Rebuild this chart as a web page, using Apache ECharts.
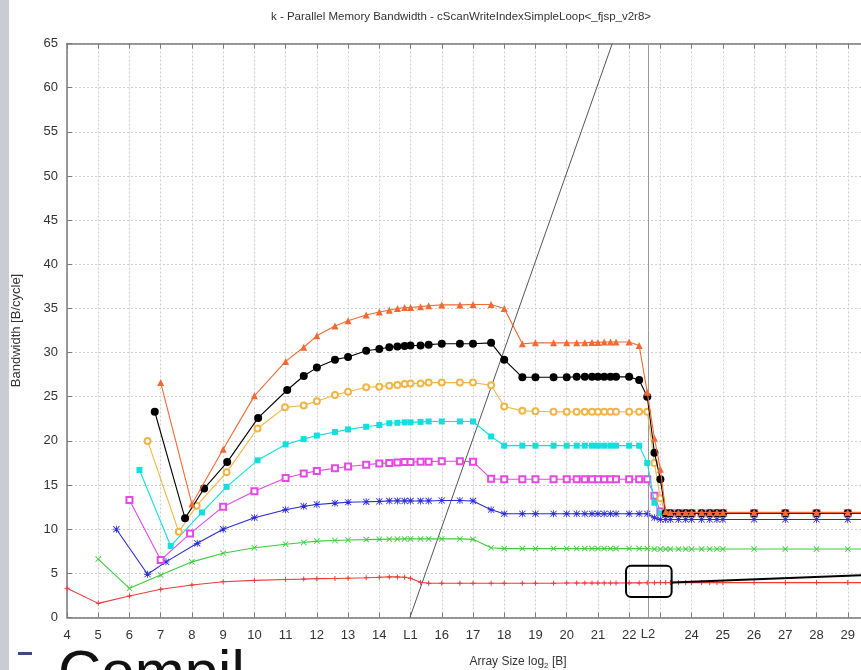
<!DOCTYPE html>
<html>
<head>
<meta charset="utf-8">
<script src="https://cdn.jsdelivr.net/npm/echarts@6.0.0/dist/echarts.min.js"></script>
<style>
  html, body { margin: 0; padding: 0; background: #ffffff; }
  #chart { width: 861px; height: 670px; }
</style>
</head>
<body>
<div id="chart"></div>
<script>
// Parallel memory bandwidth of cScanWriteIndexSimpleLoop, one curve per thread count.
// x = log2 of array size in bytes, y = bandwidth in B/cycle.

// Shared array-size grid used by every curve from 2^11.58 B upward
const MID_X = [11.58, 12, 12.58, 13, 13.58, 14, 14.32, 14.58, 14.81, 15, 15.32, 15.58, 16, 16.58, 17, 17.58,
  18, 18.58, 19, 19.58, 20, 20.32, 20.58, 20.81, 21, 21.2, 21.4, 21.58, 22, 22.32, 22.58, 22.81, 23, 23.17,
  23.32, 23.58, 23.81, 24, 24.32, 24.58, 24.81, 25, 26, 27, 28, 29, 30];

// Small sizes (each thread count starts at its own size)
const red_x = [4, 5, 6, 7, 8, 9, 10, 11];
const red_y = [3.3, 1.6, 2.43, 3.2, 3.68, 4.05, 4.2, 4.3];
const green_x = [5, 6, 7, 8, 9, 10, 11];
const green_y = [6.62, 3.3, 4.8, 6.3, 7.27, 7.9, 8.3];
const blue_x = [5.58, 6.58, 7.17, 8.17, 9, 10, 11];
const blue_y = [10.0, 4.9, 6.3, 8.4, 10.0, 11.3, 12.2];
const magenta_x = [6, 7, 7.94, 9, 10, 11];
const magenta_y = [13.3, 6.5, 9.5, 12.55, 14.3, 15.8];
const cyan_x = [6.32, 7.32, 8.32, 9.11, 10.1, 11];
const cyan_y = [16.7, 8.1, 11.9, 14.8, 17.8, 19.6];
const yellow_x = [6.58, 7.58, 8.15, 9.11, 10.1, 10.98];
const yellow_y = [20.0, 9.7, 12.66, 16.44, 21.4, 23.8];
const black_x = [6.81, 7.78, 8.39, 9.13, 10.12, 11.05];
const black_y = [23.3, 11.23, 14.6, 17.6, 22.6, 25.76];
const orange_x = [7, 8, 9, 10, 11];
const orange_y = [26.6, 12.85, 19.05, 25.1, 29.0];

// Values on the shared grid (same order as MID_X)
const red_mid = [4.35, 4.4, 4.42, 4.45, 4.5, 4.55, 4.6, 4.6, 4.55, 4.44, 4.0, 3.87, 3.87, 3.87, 3.87, 3.88,
  3.88, 3.88, 3.88, 3.88, 3.9, 3.9, 3.9, 3.9, 3.9, 3.9, 3.9, 3.9, 3.92, 3.92, 3.93, 3.93, 3.95, 3.95,
  3.95, 3.95, 3.95, 3.95, 3.95, 3.95, 3.95, 3.95, 3.95, 3.95, 3.95, 3.95, 3.95];
const green_mid = [8.5, 8.65, 8.72, 8.78, 8.82, 8.85, 8.87, 8.88, 8.9, 8.9, 8.9, 8.9, 8.9, 8.9, 8.85, 7.9,
  7.8, 7.8, 7.8, 7.8, 7.8, 7.8, 7.8, 7.8, 7.8, 7.8, 7.8, 7.8, 7.8, 7.8, 7.8, 7.75, 7.75, 7.75,
  7.75, 7.75, 7.75, 7.75, 7.75, 7.75, 7.75, 7.75, 7.75, 7.75, 7.75, 7.75, 7.75];
const blue_mid = [12.6, 12.8, 12.95, 13.05, 13.1, 13.15, 13.2, 13.2, 13.2, 13.2, 13.2, 13.2, 13.25, 13.25, 13.2, 12.2,
  11.75, 11.75, 11.75, 11.75, 11.75, 11.75, 11.75, 11.75, 11.75, 11.75, 11.75, 11.75, 11.75, 11.75, 11.75, 11.3, 11.1, 11.1,
  11.1, 11.1, 11.1, 11.1, 11.1, 11.1, 11.1, 11.1, 11.1, 11.1, 11.1, 11.1, 11.1];
const magenta_mid = [16.3, 16.6, 16.9, 17.1, 17.3, 17.45, 17.5, 17.55, 17.6, 17.6, 17.65, 17.65, 17.7, 17.7, 17.65, 15.7,
  15.65, 15.65, 15.65, 15.65, 15.65, 15.65, 15.65, 15.65, 15.65, 15.65, 15.65, 15.65, 15.65, 15.65, 15.65, 13.8, 12.0, 11.8,
  11.8, 11.8, 11.8, 11.8, 11.8, 11.8, 11.8, 11.8, 11.8, 11.8, 11.8, 11.8, 11.8];
const cyan_mid = [20.2, 20.6, 21.0, 21.3, 21.6, 21.8, 22.0, 22.05, 22.1, 22.1, 22.15, 22.2, 22.2, 22.2, 22.2, 20.5,
  19.46, 19.46, 19.46, 19.46, 19.46, 19.46, 19.46, 19.46, 19.46, 19.46, 19.46, 19.46, 19.46, 19.46, 17.5, 13.0, 11.8, 11.8,
  11.8, 11.8, 11.8, 11.8, 11.8, 11.8, 11.8, 11.8, 11.8, 11.8, 11.8, 11.8, 11.8];
const yellow_mid = [24.0, 24.5, 25.2, 25.57, 26.07, 26.14, 26.25, 26.33, 26.44, 26.5, 26.5, 26.6, 26.6, 26.6, 26.6, 26.3,
  23.9, 23.4, 23.35, 23.3, 23.3, 23.3, 23.3, 23.3, 23.3, 23.3, 23.3, 23.3, 23.3, 23.3, 23.3, 17.5, 13.5, 11.8,
  11.8, 11.8, 11.8, 11.8, 11.8, 11.8, 11.8, 11.8, 11.8, 11.8, 11.8, 11.8, 11.8];
const black_mid = [27.35, 28.3, 29.2, 29.5, 30.2, 30.4, 30.6, 30.7, 30.75, 30.8, 30.8, 30.9, 31.0, 31.0, 31.0, 31.1,
  29.2, 27.2, 27.2, 27.2, 27.2, 27.25, 27.25, 27.25, 27.25, 27.25, 27.25, 27.25, 27.25, 26.9, 25.0, 18.66, 15.65, 11.8,
  11.8, 11.8, 11.8, 11.8, 11.8, 11.8, 11.8, 11.8, 11.8, 11.8, 11.8, 11.8, 11.8];
const orange_mid = [30.6, 31.9, 33.0, 33.6, 34.26, 34.6, 34.8, 35.0, 35.1, 35.1, 35.2, 35.3, 35.4, 35.4, 35.45, 35.45,
  35.0, 31.0, 31.1, 31.1, 31.1, 31.1, 31.1, 31.15, 31.15, 31.2, 31.2, 31.2, 31.2, 30.8, 25.5, 20.3, 16.8, 12.0,
  11.9, 11.9, 11.9, 11.9, 11.9, 11.9, 11.9, 11.9, 11.9, 11.9, 11.9, 11.9, 11.9];

// Cache boundaries on the size axis, and the reference line through the chart
const L1_X = 15;
const L2_X = 22.6;
const refLine = [[14.98, 0], [21.46, 65]];

// Axis ticks
const X_MIN = 4, X_MAX = 30, Y_MIN = 0, Y_MAX = 65, Y_STEP = 5;

function pairs(xs, ys) { return xs.map((x, i) => [x, ys[i]]); }
function curve(earlyX, earlyY, midY) { return pairs(earlyX, earlyY).concat(pairs(MID_X, midY)); }

// Marker shapes: plus, cross and star
const PLUS = 'path://M4,0H6V4H10V6H6V10H4V6H0V4H4Z';
const CROSS = 'path://M1,0L5,4L9,0L10,1L6,5L10,9L9,10L5,6L1,10L0,9L4,5L0,1Z';
const STAR = 'path://M4.4,0H5.6V4.4H10V5.6H5.6V10H4.4V5.6H0V4.4H4.4Z M1,0.2L5,4.2L9,0.2L9.8,1L5.8,5L9.8,9L9,9.8L5,5.8L1,9.8L0.2,9L4.2,5L0.2,1Z';

const sans = "'Liberation Sans', Arial, sans-serif";

function lineSeries(name, color, data, symbol, size, z) {
  return {
    name: name, type: 'line', data: data, symbol: symbol, symbolSize: size,
    showAllSymbol: true, z: z, silent: true, animation: false,
    lineStyle: { color: color, width: 1.1 },
    itemStyle: { color: color, borderColor: color, borderWidth: symbol.startsWith('empty') ? 1.2 : 0 }
  };
}

const chart = echarts.init(document.getElementById('chart'), null, { renderer: 'canvas' });

const axisColor = '#7a7a7a';
const gridLine = { show: true, lineStyle: { color: '#cfcfcf', width: 1, type: [2, 2] } };

chart.setOption({
  backgroundColor: '#ffffff',
  animation: false,
  title: {
    text: 'k - Parallel Memory Bandwidth - cScanWriteIndexSimpleLoop<_fjsp_v2r8>',
    left: 456, top: 6, textAlign: 'center',
    textStyle: { fontFamily: sans, fontSize: 11.5, fontWeight: 'normal', color: '#333' }
  },
  // The plot runs on past the right edge of the page (up to 2^30 B)
  grid: { left: 67, top: 43.5, height: 574, width: 812, outerBoundsMode: 'none', containLabel: false },
  xAxis: [{
    type: 'value', min: X_MIN, max: X_MAX, interval: 1, position: 'bottom',
    name: 'Array Size log{s|2} [B]', nameLocation: 'middle', nameGap: 37,
    nameTextStyle: {
      fontFamily: sans, fontSize: 12, color: '#333', padding: [0, 0, 0, 90],
      rich: { s: { fontFamily: sans, fontSize: 8, color: '#333', padding: [7, 0, 0, 0] } }
    },
    axisLine: { show: true, onZero: false, lineStyle: { color: axisColor, width: 1.5 } },
    axisTick: { show: true, inside: true, length: 5, lineStyle: { color: axisColor } },
    axisLabel: {
      fontFamily: sans, fontSize: 13, color: '#333', margin: 11,
      formatter: v => (v === L1_X ? 'L1' : (v === 23 ? '' : String(v)))
    },
    splitLine: gridLine
  }, {
    type: 'value', min: X_MIN, max: X_MAX, interval: 1, position: 'top',
    axisLine: { show: true, onZero: false, lineStyle: { color: axisColor, width: 1.5 } },
    axisTick: { show: true, inside: true, length: 5, lineStyle: { color: axisColor } },
    axisLabel: { show: false }, splitLine: { show: false }
  }],
  yAxis: {
    type: 'value', min: Y_MIN, max: Y_MAX, interval: Y_STEP,
    name: 'Bandwidth [B/cycle]', nameLocation: 'middle', nameGap: 44,
    nameTextStyle: { fontFamily: sans, fontSize: 13, color: '#333' },
    axisLine: { show: true, lineStyle: { color: axisColor, width: 1.5 } },
    axisTick: { show: true, inside: true, length: 5, lineStyle: { color: axisColor } },
    axisLabel: { fontFamily: sans, fontSize: 13, color: '#333', margin: 9 },
    splitLine: gridLine
  },
  series: [
    lineSeries('1', '#ee3b3b', curve(red_x, red_y, red_mid), PLUS, 5, 2),
    lineSeries('2', '#3ccc3c', curve(green_x, green_y, green_mid), CROSS, 6, 3),
    lineSeries('3', '#2a2ad8', curve(blue_x, blue_y, blue_mid), STAR, 7, 4),
    lineSeries('4', '#e648e6', curve(magenta_x, magenta_y, magenta_mid), 'emptyRect', 6, 5),
    lineSeries('5', '#11dede', curve(cyan_x, cyan_y, cyan_mid), 'rect', 6, 6),
    lineSeries('6', '#f0b545', curve(yellow_x, yellow_y, yellow_mid), 'emptyCircle', 6, 7),
    lineSeries('7', '#000000', curve(black_x, black_y, black_mid), 'circle', 8, 8),
    lineSeries('8', '#f26a33', curve(orange_x, orange_y, orange_mid), 'triangle', 7, 9),
    {
      name: 'ref', type: 'line', data: refLine, symbol: 'none', z: 1, silent: true,
      lineStyle: { color: '#555', width: 1 },
      markLine: {
        silent: true, symbol: 'none',
        lineStyle: { color: '#9a9a9a', type: 'solid', width: 1 },
        label: { show: true, position: 'start', distance: 10, formatter: 'L2',
                 fontFamily: sans, fontSize: 13, color: '#333' },
        data: [{ xAxis: L2_X }]
      }
    }
  ]
});

// Slide background pieces around the chart and the callout on the L2 region
function drawOverlay() {
  const p = (x, y) => chart.convertToPixel({ xAxisIndex: 0, yAxisIndex: 0 }, [x, y]);
  const boxA = p(21.9, 5.85), boxB = p(23.36, 2.32);
  const lineA = p(23.36, 3.95), lineB = p(30, 4.85);
  chart.setOption({
    graphic: [
      { type: 'rect', left: 0, top: 0, shape: { width: 9, height: 670 }, style: { fill: '#c9ccd3' }, silent: true },
      { type: 'text', left: 58, top: 645, silent: true,
        style: { text: 'Compil', fontFamily: sans, fontSize: 60, fill: '#111' } },
      { type: 'rect', left: 18, top: 652, shape: { width: 14, height: 3 }, style: { fill: '#3b4a7a' }, silent: true },
      { type: 'rect', silent: true, z: 100,
        shape: { x: boxA[0], y: boxA[1], width: boxB[0] - boxA[0], height: boxB[1] - boxA[1], r: 5 },
        style: { fill: 'none', stroke: '#000', lineWidth: 2 } },
      { type: 'line', silent: true, z: 100,
        shape: { x1: lineA[0], y1: lineA[1], x2: lineB[0], y2: lineB[1] },
        style: { stroke: '#000', lineWidth: 2 } }
    ]
  });
}
drawOverlay();
</script>
</body>
</html>
